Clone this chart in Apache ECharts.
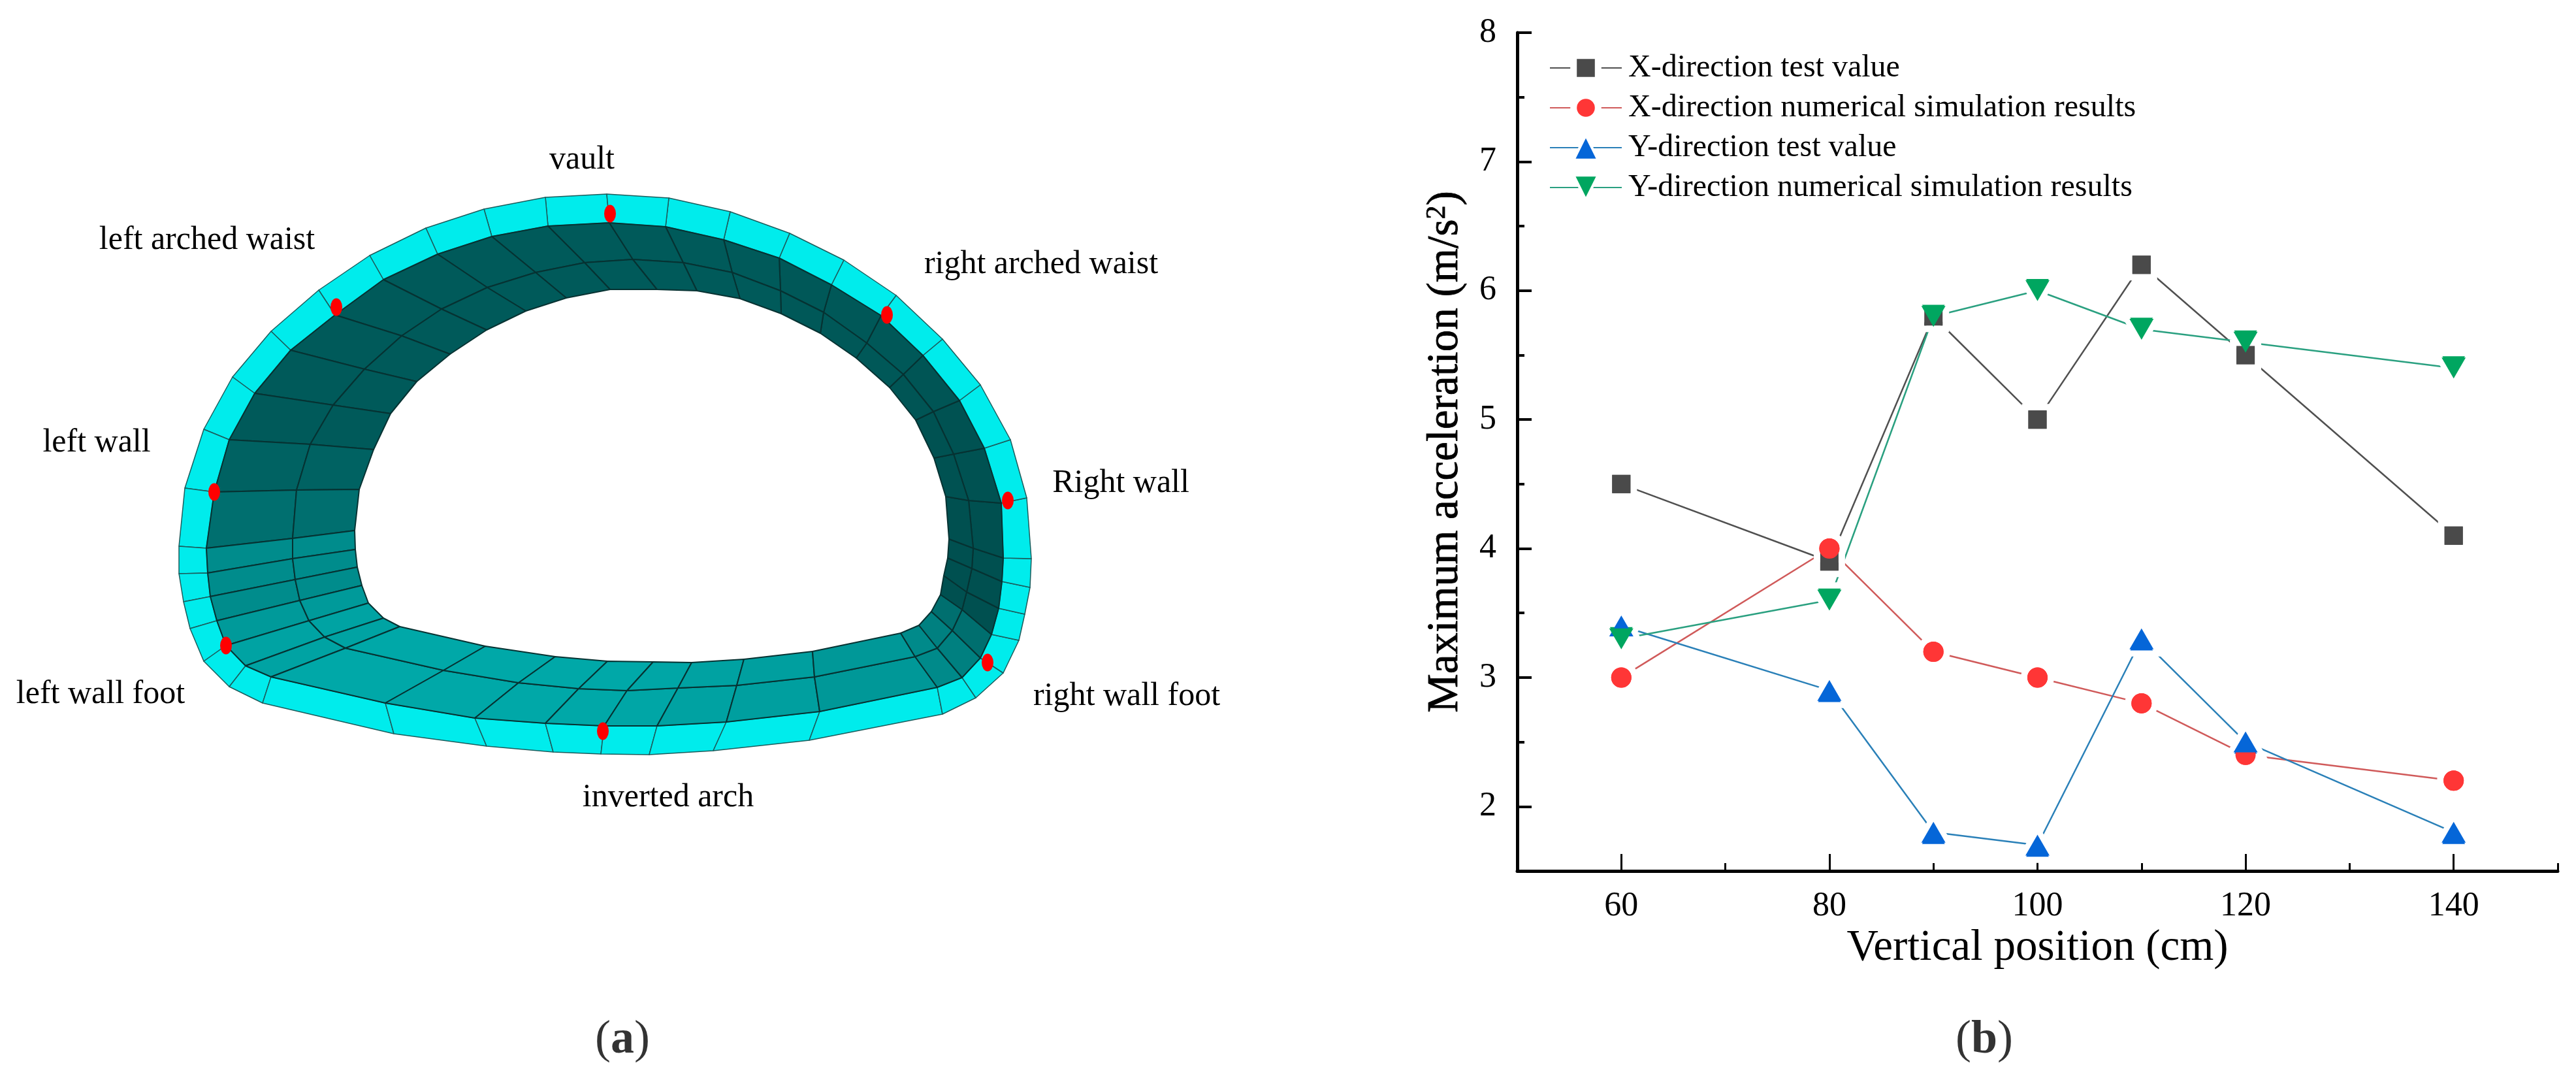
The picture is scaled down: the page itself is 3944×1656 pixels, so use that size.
<!DOCTYPE html>
<html><head><meta charset="utf-8">
<style>html,body{margin:0;padding:0;background:#fff}#c{width:3944px;height:1656px}</style>
<script src="https://cdn.jsdelivr.net/npm/echarts@6/dist/echarts.min.js"></script>
</head><body><div id="c"></div>
<script>
// ---- panel (b) data
const positions = [60, 80, 90, 100, 110, 120, 140];
const xTest = [4.5, 3.9, 5.8, 5.0, 6.2, 5.5, 4.1];
const xSim  = [3.0, 4.0, 3.2, 3.0, 2.8, 2.4, 2.2];
const yTest = [3.4, 2.9, 1.8, 1.7, 3.3, 2.5, 1.8];
const ySim  = [3.3, 3.6, 5.8, 6.0, 5.7, 5.6, 5.4];
const seriesNames = ['X-direction test value','X-direction numerical simulation results','Y-direction test value','Y-direction numerical simulation results'];
const xMajor = [60, 80, 100, 120, 140];
const xMinor = [70, 90, 110, 130, 150];
const yMajor = [2, 3, 4, 5, 6, 7, 8];
const yMinor = [2.5, 3.5, 4.5, 5.5, 6.5, 7.5];
// ---- panel (a) mesh: rings walk clockwise from the vault, left side first
const outerRing = [[929,297],[835,302],[741,320],[652,349],[566,391],[488,444],[415,507],[356,577],[312,657],[283,747],[274,836],[274,878],[281,921],[291,962],[312,1012],[351,1051],[402,1076],[603,1123],[745,1142],[847,1151],[920,1154],
 [994,1155],[1092,1149],[1239,1133],[1443,1093],[1494,1068],[1536,1030],[1560,980],[1569,940],[1577,899],[1579,855],[1572,762],[1547,673],[1501,589],[1443,519],[1372,452],[1292,398],[1209,357],[1118,324],[1024,303]];
const edgeRing = [[933,341],[839,346],[753,362],[670,389],[587,428],[513,482],[445,536],[390,602],[351,673],[328,753],[316,839],[318,877],[322,913],[332,950],[346,988],[376,1019],[415,1036],[590,1076],[727,1099],[835,1107],[925,1111],
 [1006,1111],[1112,1105],[1255,1089],[1435,1052],[1473,1037],[1501,1007],[1518,971],[1529,931],[1534,890],[1536,854],[1533,770],[1507,686],[1469,613],[1413,544],[1349,483],[1273,436],[1193,395],[1108,367],[1019,347]];
const midRing = [[969,397],[895,402],[820,417],[746,440],[676,473],[615,514],[558,565],[510,620],[475,680],[454,750],[448,824],[448,855],[452,887],[459,919],[473,950],[497,975],[529,992],[679,1026],[794,1045],[886,1054],[960,1057],
 [1038,1053],[1128,1049],[1247,1036],[1401,1005],[1435,992],[1458,965],[1473,933],[1480,906],[1488,870],[1490,839],[1483,766],[1460,695],[1429,630],[1383,573],[1327,525],[1261,478],[1195,445],[1121,417],[1046,402]];
const innerRing = [[1006,443],[934,443],[867,456],[805,476],[745,505],[689,542],[638,584],[598,633],[572,688],[550,749],[543,812],[544,841],[547,868],[554,896],[564,923],[587,946],[612,959],[743,989],[850,1005],[930,1012],[1000,1013],
 [1059,1014],[1139,1009],[1244,997],[1379,969],[1407,957],[1426,936],[1440,910],[1445,881],[1451,854],[1453,825],[1448,760],[1430,701],[1402,643],[1362,593],[1311,548],[1256,510],[1196,480],[1133,457],[1067,445]];
const segmentShades = ['#005a5a','#005a5a','#005a5a','#005a5a','#005a5a','#005a5a','#005a5a','#005a5a','#006262','#006f6f','#008c8c','#008c8c','#008c8c','#009a9a','#00a3a3','#00a3a3','#00a8a8','#00a8a8','#00a8a8','#00a8a8','#00a6a6','#00a2a2','#009f9f','#009898','#008a8a','#008080','#006f6f','#005050','#005050','#005050','#005050','#005252','#005252','#005555','#005858','#005858','#005858','#005a5a','#005a5a','#005a5a'];
const sensorPoints = [[934,327],[515,470],[328,753],[346,988],[923,1119],[1358,482],[1543,766],[1512,1014]];
const meshLabels = [[891,245,'vault'],[317,368,'left arched waist'],[1594,405,'right arched waist'],[148,678,'left wall'],[1716,740,'Right wall'],[154,1063,'left wall foot'],[1725,1066,'right wall foot'],[1023,1221,'inverted arch']];
const captions = [[953,1592,'({b|a})'],[3038,1592,'({b|b})']];

const F = 'Liberation Serif';
const C = ['#4a4a4a','#ff3636','#0566d8','#00a660'];
const L = ['#505050','#d05a5a','#2a80b8','#2aa080'];
const rings = [outerRing, edgeRing, midRing, innerRing];
const meshCells = [];
for (let b = 0; b < 3; b++) for (let s = 0; s < outerRing.length; s++) meshCells.push([s, b]);
const pairs = ys => positions.map((p, i) => [p, ys[i]]);
const sets = [xTest, xSim, yTest, ySim];
const sym = ['rect','circle','triangle','triangle'];
const visSize = [28, 31, [37,32], [37,32]];
const haloSize = [38, 41, [52,45], [52,45]];
const rot = [0,0,0,180];
const legendBorder = [10, 10, 4, 4];

const lineSeries = sets.map((ys, i) => ({
  name: seriesNames[i], type: 'line', data: pairs(ys), xAxisIndex: 0, yAxisIndex: 0, z: 3,
  symbol: sym[i], symbolSize: haloSize[i], symbolRotate: rot[i], showAllSymbol: true,
  lineStyle: {color: L[i], width: 2.5},
  itemStyle: {color: C[i], borderColor: '#fff', borderWidth: 10, opacity: 1},
  emphasis: {disabled: true}, animation: false
}));
const topSeries = sets.map((ys, i) => ({
  type: 'scatter', data: pairs(ys), xAxisIndex: 0, yAxisIndex: 0, z: 4,
  symbol: sym[i], symbolSize: visSize[i], symbolRotate: rot[i],
  itemStyle: {color: C[i], opacity: 1}, animation: false
}));

const option = {
  backgroundColor: '#fff', animation: false,
  grid: [
    {left: 2323, top: 50, width: 1593, height: 1283},
    {left: 0, top: 0, width: 3944, height: 1656}
  ],
  legend: {
    data: seriesNames.map((n, i) => ({name: n, itemStyle: {borderColor: '#fff', borderWidth: legendBorder[i]}})),
    orient: 'vertical', left: 2372, top: 80, padding: 0,
    itemWidth: 110, itemHeight: 47, itemGap: 13,
    textStyle: {fontFamily: F, fontSize: 48, color: '#000', padding: [0,0,0,5]},
    selectedMode: false
  },
  xAxis: [
    {gridIndex: 0, type: 'value', min: 50, max: 150, position: 'bottom',
     name: 'Vertical position (cm)', nameLocation: 'middle', nameGap: 82,
     nameTextStyle: {fontFamily: F, fontSize: 67, color: '#000'},
     axisLine: {show: true, onZero: false, lineStyle: {color: '#000', width: 5}},
     axisTick: {show: true, inside: true, length: 26, lineStyle: {color: '#000', width: 3}, customValues: xMajor},
     axisLabel: {show: true, margin: 28, fontFamily: F, fontSize: 52, color: '#000', customValues: xMajor},
     splitLine: {show: false}},
    {gridIndex: 0, type: 'value', min: 50, max: 150, position: 'bottom',
     axisLine: {show: false},
     axisTick: {show: true, inside: true, length: 12, lineStyle: {color: '#000', width: 3}, customValues: xMinor},
     axisLabel: {show: false}, splitLine: {show: false}},
    {gridIndex: 1, type: 'value', min: 0, max: 3944, show: false}
  ],
  yAxis: [
    {gridIndex: 0, type: 'value', min: 1.5, max: 8, position: 'left',
     name: 'Maximum acceleration (m/s{sup|2})', nameLocation: 'middle', nameGap: 76,
     nameTextStyle: {fontFamily: F, fontSize: 67, color: '#000', textBorderColor: '#000', textBorderWidth: 0.8, rich: {sup: {fontFamily: F, fontSize: 42, color: '#000', verticalAlign: 'top', padding: [0,0,20,0]}}},
     axisLine: {show: true, onZero: false, lineStyle: {color: '#000', width: 5}},
     axisTick: {show: true, inside: true, length: 22, lineStyle: {color: '#000', width: 4}, customValues: yMajor},
     axisLabel: {show: true, margin: 32, fontFamily: F, fontSize: 52, color: '#000', customValues: yMajor},
     splitLine: {show: false}},
    {gridIndex: 0, type: 'value', min: 1.5, max: 8, position: 'left',
     axisLine: {show: false},
     axisTick: {show: true, inside: true, length: 11, lineStyle: {color: '#000', width: 4}, customValues: yMinor},
     axisLabel: {show: false}, splitLine: {show: false}},
    {gridIndex: 1, type: 'value', min: 0, max: 1656, inverse: true, show: false}
  ],
  series: [
    ...lineSeries, ...topSeries,
    {type: 'custom', xAxisIndex: 2, yAxisIndex: 2, data: meshCells, clip: false, z: 1, silent: true,
     renderItem: (params, api) => {
       const s = api.value(0), b = api.value(1), n = outerRing.length, t = (s + 1) % n;
       const pts = [rings[b][s], rings[b][t], rings[b+1][t], rings[b+1][s]].map(p => api.coord(p));
       return {type: 'polygon', shape: {points: pts},
         style: {fill: b === 0 ? '#00ecec' : segmentShades[s], stroke: b === 0 ? '#1c5c5c' : '#063232', lineWidth: b === 0 ? 1.5 : 2, lineJoin: 'round'}};
     }},
    {type: 'scatter', xAxisIndex: 2, yAxisIndex: 2, data: sensorPoints, z: 2, symbol: 'circle', symbolSize: [18, 27], itemStyle: {color: '#ff0000', opacity: 1}},
    {type: 'scatter', xAxisIndex: 2, yAxisIndex: 2, data: meshLabels, z: 2, symbolSize: 1, itemStyle: {color: 'transparent'},
     label: {show: true, position: 'inside', formatter: p => p.value[2], fontFamily: F, fontSize: 50, color: '#000', opacity: 1}},
    {type: 'scatter', xAxisIndex: 2, yAxisIndex: 2, data: captions, z: 2, symbolSize: 1, itemStyle: {color: 'transparent'},
     label: {show: true, position: 'inside', formatter: p => p.value[2], fontFamily: F, fontSize: 72, color: '#000', rich: {b: {fontFamily: F, fontSize: 72, fontWeight: 'bold', color: '#000'}}}}
  ]
};
echarts.init(document.getElementById('c'), null, {renderer: 'canvas'}).setOption(option);
</script></body></html>
